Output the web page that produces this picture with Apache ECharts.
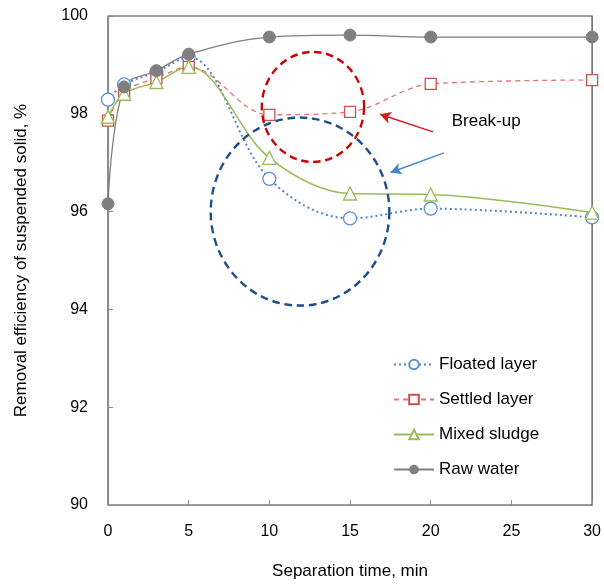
<!DOCTYPE html>
<html><head><meta charset="utf-8">
<script src="https://cdn.jsdelivr.net/npm/echarts@6/dist/echarts.min.js"></script>
<style>html,body{margin:0;padding:0;background:#fff}#c{width:604px;height:587px}</style>
</head><body><div id="c"></div>
<script>
const times = [0, 1, 3, 5, 10, 15, 20, 30];
const floated = [98.29, 98.60, 98.86, 99.16, 96.67, 95.86, 96.06, 95.88];
const settled = [97.86, 98.45, 98.73, 98.96, 97.98, 98.04, 98.61, 98.69];
const mixed = [97.94, 98.41, 98.65, 98.96, 97.10, 96.37, 96.35, 95.98];
const raw = [96.16, 98.55, 98.88, 99.22, 99.57, 99.61, 99.57, 99.57];
const seriesNames = ['Floated layer', 'Settled layer', 'Mixed sludge', 'Raw water'];
const xTicks = [0, 5, 10, 15, 20, 25, 30];
const yTicks = [90, 92, 94, 96, 98, 100];
// annotation anchors (data coordinates)
const redRing = { center: [12.7, 98.14] };
const blueRing = { center: [11.9, 96.0] };
const redArrow = [[20.14, 97.63], [16.85, 97.99]];
const blueArrow = [[20.82, 97.20], [17.5, 96.80]];
const labelPos = [21.3, 97.85];

const pair = a => times.map((t, i) => [t, a[i]]);
const font = 'Liberation Sans, Arial, sans-serif';
const chart = echarts.init(document.getElementById('c'));

chart.setOption({
  animation: false,
  textStyle: { fontFamily: font },
  grid: { left: 108, right: 9, top: 16, bottom: 82, show: true, borderColor: '#404040', borderWidth: 1.2 },
  xAxis: {
    type: 'value', min: xTicks[0], max: xTicks[xTicks.length - 1], interval: 5,
    name: 'Separation time, min', nameLocation: 'middle', nameGap: 58,
    nameTextStyle: { fontSize: 17, color: '#000', fontFamily: font },
    axisLine: { lineStyle: { color: '#8c8c8c', width: 1.2 } },
    axisTick: { inside: true, length: 5, lineStyle: { color: '#8c8c8c' } },
    axisLabel: { fontSize: 16, color: '#000', margin: 19, fontFamily: font },
    splitLine: { show: false }
  },
  yAxis: {
    type: 'value', min: yTicks[0], max: yTicks[yTicks.length - 1], interval: 2,
    name: 'Removal efficiency of suspended solid, %', nameLocation: 'middle', nameGap: 78,
    nameTextStyle: { fontSize: 17, color: '#000', fontFamily: font },
    axisLine: { show: true, lineStyle: { color: '#8c8c8c', width: 1.2 } },
    axisTick: { show: true, inside: true, length: 5, lineStyle: { color: '#8c8c8c' } },
    axisLabel: { fontSize: 16, color: '#000', margin: 20, fontFamily: font },
    splitLine: { show: false }
  },
  legend: {
    orient: 'vertical', left: 388, top: 351, itemWidth: 40, itemHeight: 12, itemGap: 18,
    textStyle: { fontSize: 17, color: '#000', fontFamily: font },
    data: seriesNames
  },
  series: [
    {
      name: seriesNames[0], type: 'line', data: pair(floated), smooth: 0.35,
      symbol: 'circle', symbolSize: 13,
      lineStyle: { color: '#4f86c6', width: 2, type: [2, 3] },
      itemStyle: { color: '#fff', borderColor: '#5b8fd0', borderWidth: 1.3 }
    },
    {
      name: seriesNames[1], type: 'line', data: pair(settled), smooth: 0.35,
      symbol: 'rect', symbolSize: 11,
      lineStyle: { color: '#e07573', width: 1.3, type: [5, 4] },
      itemStyle: { color: '#fff', borderColor: '#c8504d', borderWidth: 1.3 },
      markLine: {
        silent: true, symbol: ['none', 'arrow'], symbolSize: [9, 11], label: { show: false },
        data: [
          [{ coord: redArrow[0], lineStyle: { color: '#d11c1c', width: 1.5, type: 'solid' } }, { coord: redArrow[1] }],
          [{ coord: blueArrow[0], lineStyle: { color: '#4a86c8', width: 1.5, type: 'solid' } }, { coord: blueArrow[1] }]
        ]
      }
    },
    {
      name: seriesNames[2], type: 'line', data: pair(mixed), smooth: 0.35,
      symbol: 'triangle', symbolSize: 13,
      lineStyle: { color: '#9bbb59', width: 1.5 },
      itemStyle: { color: '#fff', borderColor: '#9bbb59', borderWidth: 1.3 }
    },
    {
      name: seriesNames[3], type: 'line', data: pair(raw), smooth: 0.35,
      symbol: 'circle', symbolSize: 12,
      lineStyle: { color: '#7f7f7f', width: 1.3 },
      itemStyle: { color: '#7f7f7f', borderColor: '#7f7f7f' }
    }
  ]
});

const rc = chart.convertToPixel({ gridIndex: 0 }, redRing.center);
const bc = chart.convertToPixel({ gridIndex: 0 }, blueRing.center);
const lp = chart.convertToPixel({ gridIndex: 0 }, labelPos);
chart.setOption({
  graphic: [
    { type: 'circle', x: rc[0], y: rc[1], scaleX: 0.93, scaleY: 1, shape: { cx: 0, cy: 0, r: 55 }, silent: true,
      style: { fill: 'none', stroke: '#cc0000', lineWidth: 2.5, lineDash: [8, 5] }, z: 10 },
    { type: 'circle', x: bc[0], y: bc[1], scaleX: 0.95, scaleY: 1, shape: { cx: 0, cy: 0, r: 94 }, silent: true,
      style: { fill: 'none', stroke: '#1f4e8c', lineWidth: 2.5, lineDash: [8, 5] }, z: 10 },
    { type: 'text', x: lp[0], y: lp[1], silent: true,
      style: { text: 'Break-up', font: '17px ' + font, fill: '#000', verticalAlign: 'middle' }, z: 10 }
  ]
});
</script></body></html>
